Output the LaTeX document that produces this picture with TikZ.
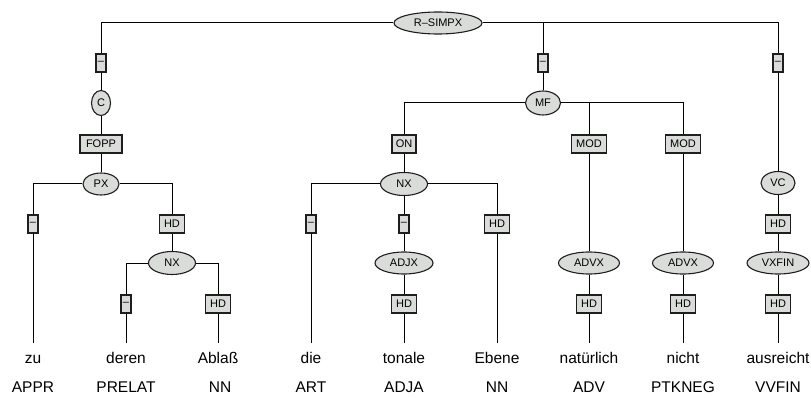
\documentclass[tikz,border=0pt]{standalone}
\usepackage{fontspec}
\setmainfont{Liberation Sans}
\usetikzlibrary{shapes.geometric}
\definecolor{nfill}{RGB}{217,220,217}
\definecolor{nline}{RGB}{30,30,30}
\tikzset{
  lbl/.style={draw=nline, fill=nfill, line width=1.1pt, rectangle, minimum height=18pt, inner xsep=4.5pt, inner ysep=0pt, font=\fontsize{11}{13}\selectfont},
  dbox/.style={lbl, inner xsep=1.5pt, minimum width=10pt},
  ell/.style 2 args={draw=nline, fill=nfill, line width=1.1pt, ellipse, inner sep=0pt, minimum width=#1, minimum height=#2, font=\fontsize{11}{13}\selectfont},
  word/.style={anchor=base, inner sep=0pt, text height=11pt, text depth=3pt, outer ysep=9pt, font=\fontsize{15.5}{18}\selectfont},
  tag/.style={anchor=base, inner sep=0pt, font=\fontsize{15.5}{18}\selectfont},
  edge/.style={line width=1pt, black}
}
\begin{document}
\begin{tikzpicture}[x=1pt,y=-1pt]
\useasboundingbox (0,0) rectangle (811,398);
% nodes
\node[ell={88pt}{22pt}] (root) at (438,23) {R--SIMPX};
\node[dbox] (d1) at (101,63) {--};
\node[dbox] (d2) at (543,63) {--};
\node[dbox] (d3) at (778,63) {--};
\node[ell={19pt}{25pt}] (c) at (101,103) {C};
\node[lbl, minimum width=42pt] (fopp) at (101,144) {FOPP};
\node[ell={36pt}{22pt}] (px) at (101,184) {PX};
\node[dbox] (d4) at (33,224) {--};
\node[lbl] (hd1) at (172,224) {HD};
\node[ell={47pt}{23pt}] (nx2) at (172,263) {NX};
\node[dbox] (d5) at (126,304) {--};
\node[lbl] (hd2) at (218,304) {HD};
\node[ell={35pt}{24pt}] (mf) at (543,103) {MF};
\node[lbl, minimum width=24pt, inner xsep=3pt] (on) at (404,144) {ON};
\node[lbl] (mod1) at (589,144) {MOD};
\node[lbl] (mod2) at (683,144) {MOD};
\node[ell={47pt}{23pt}] (nx) at (404,184) {NX};
\node[dbox] (d6) at (311,224) {--};
\node[dbox] (d7) at (404,224) {--};
\node[lbl] (hd3) at (497,224) {HD};
\node[ell={58pt}{22pt}] (adjx) at (404,263) {ADJX};
\node[lbl] (hd4) at (404,304) {HD};
\node[ell={61pt}{22pt}] (advx1) at (589,263) {ADVX};
\node[lbl] (hd5) at (589,304) {HD};
\node[ell={61pt}{22pt}] (advx2) at (683,263) {ADVX};
\node[lbl] (hd6) at (683,304) {HD};
\node[ell={34pt}{23pt}] (vc) at (778,183) {VC};
\node[lbl] (hd7) at (778,224) {HD};
\node[ell={62pt}{22pt}] (vxfin) at (778,263) {VXFIN};
\node[lbl] (hd8) at (778,304) {HD};
% words
\node[word] (w1) at (33,363) {zu};
\node[word] (w2) at (126,363) {deren};
\node[word] (w3) at (218,363) {Ablaß};
\node[word] (w4) at (311,363) {die};
\node[word] (w5) at (404,363) {tonale};
\node[word] (w6) at (497,363) {Ebene};
\node[word] (w7) at (589,363) {natürlich};
\node[word] (w8) at (683,363) {nicht};
\node[word] (w9) at (778,363) {ausreicht};
% tags
\node[tag] (t1) at (33,392) {APPR};
\node[tag] (t2) at (126,392) {PRELAT};
\node[tag] (t3) at (220,392) {NN};
\node[tag] (t4) at (311,392) {ART};
\node[tag] (t5) at (404,392) {ADJA};
\node[tag] (t6) at (497,392) {NN};
\node[tag] (t7) at (589,392) {ADV};
\node[tag] (t8) at (683,392) {PTKNEG};
\node[tag] (t9) at (778,392) {VVFIN};
% edges
\draw[edge] (root) -| (d1);
\draw[edge] (root) -| (d2);
\draw[edge] (root) -| (d3);
\draw[edge] (d1) -- (c);
\draw[edge] (c) -- (fopp);
\draw[edge] (fopp) -- (px);
\draw[edge] (px) -| (d4);
\draw[edge] (px) -| (hd1);
\draw[edge] (d4) -- (w1);
\draw[edge] (hd1) -- (nx2);
\draw[edge] (nx2) -| (d5);
\draw[edge] (nx2) -| (hd2);
\draw[edge] (d5) -- (w2);
\draw[edge] (hd2) -- (w3);
\draw[edge] (d2) -- (mf);
\draw[edge] (mf) -| (on);
\draw[edge] (mf) -| (mod1);
\draw[edge] (mf) -| (mod2);
\draw[edge] (on) -- (nx);
\draw[edge] (nx) -| (d6);
\draw[edge] (nx) -- (d7);
\draw[edge] (nx) -| (hd3);
\draw[edge] (d6) -- (w4);
\draw[edge] (d7) -- (adjx);
\draw[edge] (adjx) -- (hd4);
\draw[edge] (hd4) -- (w5);
\draw[edge] (hd3) -- (w6);
\draw[edge] (mod1) -- (advx1);
\draw[edge] (advx1) -- (hd5);
\draw[edge] (hd5) -- (w7);
\draw[edge] (mod2) -- (advx2);
\draw[edge] (advx2) -- (hd6);
\draw[edge] (hd6) -- (w8);
\draw[edge] (d3) -- (vc);
\draw[edge] (vc) -- (hd7);
\draw[edge] (hd7) -- (vxfin);
\draw[edge] (vxfin) -- (hd8);
\draw[edge] (hd8) -- (w9);
\end{tikzpicture}
\end{document}
